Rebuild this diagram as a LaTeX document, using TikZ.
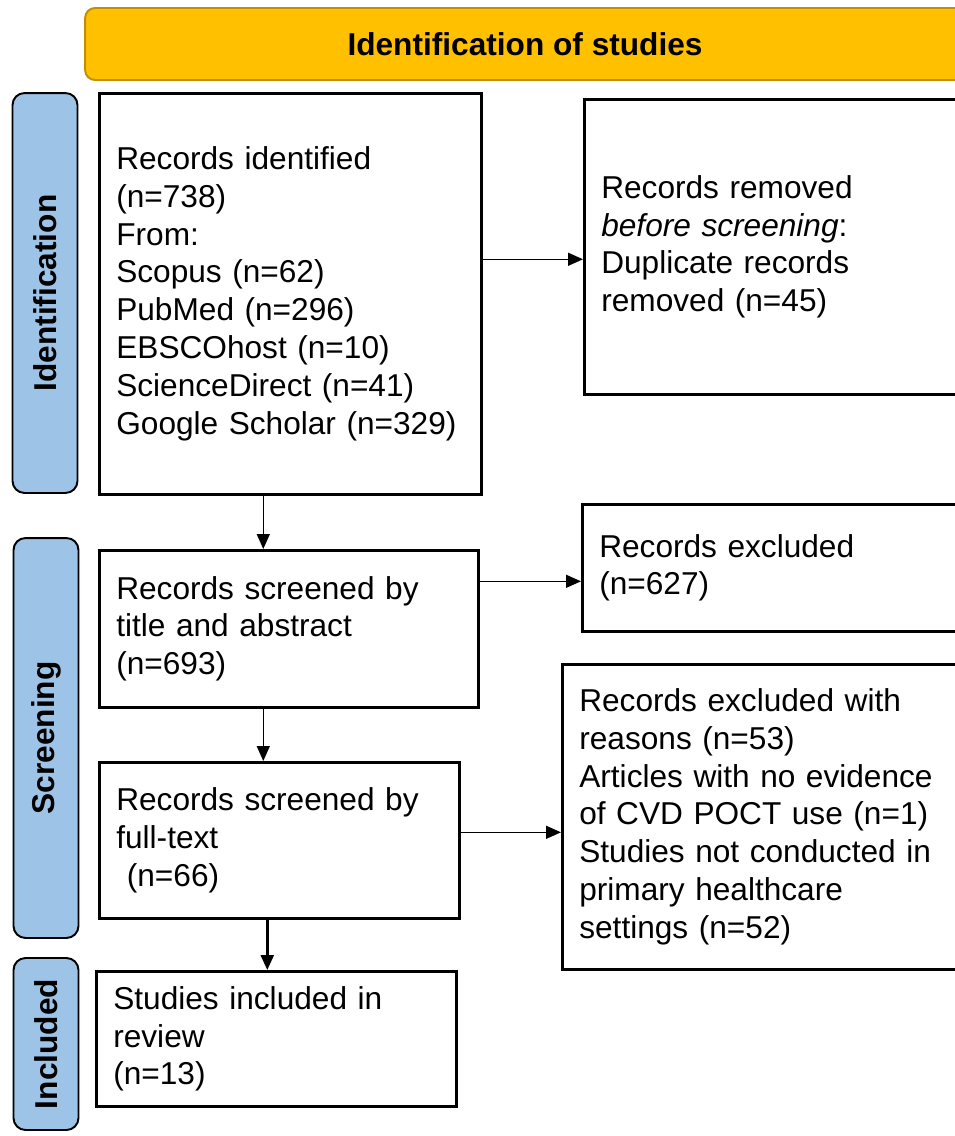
\documentclass[tikz,border=0pt]{standalone}
\usepackage{fontspec}
\setmainfont{Liberation Sans}
\usepackage{xcolor}
\usepackage{tikz}
\usetikzlibrary{arrows.meta,calc}

\definecolor{headgold}{HTML}{FFC000}
\definecolor{headedge}{HTML}{BF9000}
\definecolor{phaseblue}{HTML}{9DC3E6}

\begin{document}
\begin{tikzpicture}[x=0.02cm, y=-0.02cm,
    >={Triangle[length=0.3cm,width=0.26cm]},
    every node/.style={font=\fontsize{18}{21.6}\selectfont},
    box/.style={draw, line width=1.5pt, anchor=north west, align=left, inner xsep=0.34cm, inner ysep=0pt},
    phase/.style={draw, line width=1.1pt, rounded corners=0.24cm, fill=phaseblue, rotate=90, minimum height=1.3cm, font=\bfseries\fontsize{18}{21.6}\selectfont},
    flow/.style={->, line width=0.8pt}]
    \useasboundingbox (0,0) rectangle (955,1136);
    \clip (0,0) rectangle (955,1136);

    % header and phase bars
    \node[draw=headedge, fill=headgold, line width=1.1pt, rounded corners=0.2cm, minimum width=17.6cm, minimum height=1.44cm, font=\bfseries\fontsize{18}{21.6}\selectfont] (header) at (525,44) {Identification of studies};
    \node[phase, minimum width=8cm] (idphase) at (45,293) {Identification};
    \node[phase, minimum width=8cm] (scphase) at (46,738) {Screening};
    \node[phase, minimum width=3.44cm] (inphase) at (46,1044) {Included};

    % boxes
    \node[box, text width=6.96cm, minimum height=8.02cm] (ident) at (98,92) {Records identified\\(n=738)\\From:\\Scopus (n=62)\\PubMed (n=296)\\EBSCOhost (n=10)\\ScienceDirect (n=41)\\Google Scholar (n=329)};
    \node[box, text width=7.36cm, minimum height=5.9cm] (removed) at (583,98) {Records removed\\\textit{before screening}:\\Duplicate records\\removed (n=45)};
    \node[box, text width=6.9cm, minimum height=3.14cm] (screened) at (98,549) {Records screened by\\title and abstract\\(n=693)};
    \node[box, text width=7.4cm, minimum height=2.54cm] (excl) at (581,503) {Records excluded\\(n=627)};
    \node[box, text width=6.52cm, minimum height=3.12cm] (fulltext) at (98,761) {Records screened by\\full-text\\~(n=66)};
    \node[box, text width=7.8cm, minimum height=6.1cm] (exclwhy) at (561,663) {Records excluded with\\reasons (n=53)\\Articles with no evidence\\of CVD POCT use (n=1)\\Studies not conducted in\\primary healthcare\\settings (n=52)};
    \node[box, text width=6.52cm, minimum height=2.7cm] (incl) at (95,970) {Studies included in\\review\\(n=13)};

    % arrows
    \draw[flow] ($(ident.east)+(0,-34.5)$) -- ($(ident.east -| removed.west)+(0,-34.5)$);
    \draw[flow] ($(ident.south)+(-27,0)$) -- ($(ident.south |- screened.north)+(-27,0)$);
    \draw[flow] ($(screened.east |- excl.west)+(0,13.5)$) -- ($(excl.west)+(0,13.5)$);
    \draw[flow] ($(screened.south)+(-25.5,0)$) -- ($(screened.south |- fulltext.north)+(-25.5,0)$);
    \draw[flow] ($(fulltext.east)+(0,-8)$) -- ($(fulltext.east -| exclwhy.west)+(0,-8)$);
    \draw[flow, line width=1.4pt] ($(fulltext.south)+(-12,0)$) -- ($(fulltext.south |- incl.north)+(-12,0)$);
\end{tikzpicture}
\end{document}
